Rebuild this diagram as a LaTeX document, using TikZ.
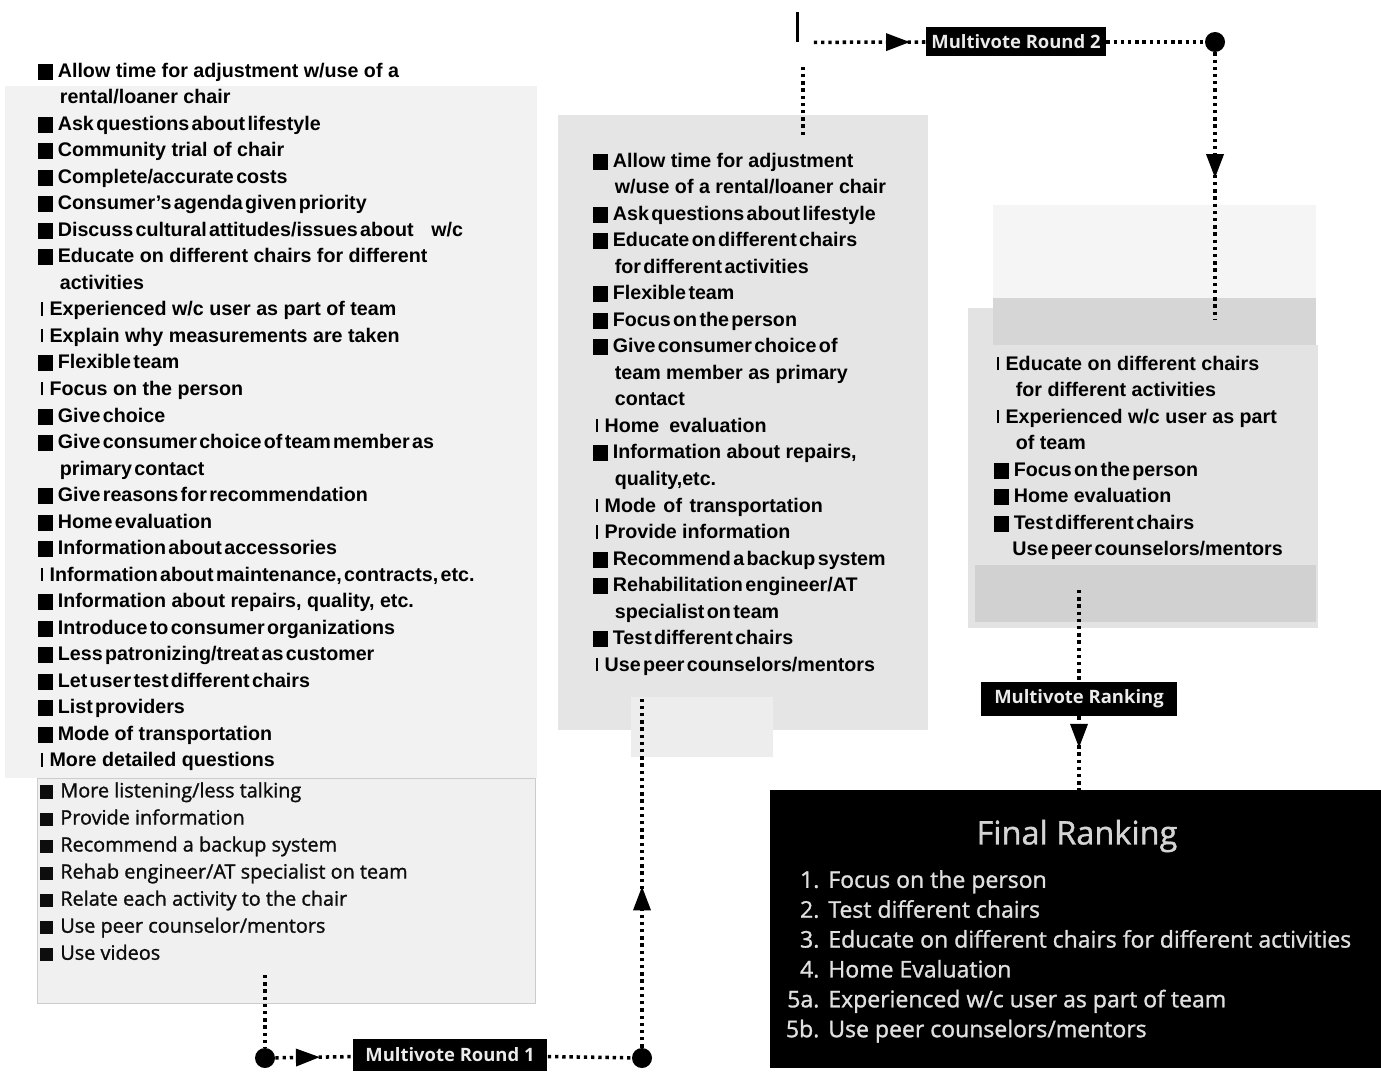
\documentclass[tikz,border=0pt]{standalone}
\usepackage{fontspec}
\setmainfont{Liberation Sans}
\newfontfamily\scanfont{Open Sans}
\newfontfamily\scanmid{Open Sans}[FakeBold=1.2]
\usetikzlibrary{arrows.meta,decorations.markings}

% bullets and indents of the printed lists
\newcommand{\sq}{\rule[-0.05cm]{0.29cm}{0.32cm}\hspace{0.1cm}}
\newcommand{\scansq}{\rule[-0.03cm]{0.26cm}{0.27cm}\hspace{0.14cm}}
\newcommand{\br}{\hspace*{0.05cm}\rule{0.045cm}{0.27cm}\hspace{0.13cm}}
\newcommand{\ind}{\hspace*{0.43cm}}
\newcommand{\tg}[1]{{\spaceskip=0.12em\relax#1}}
\newcommand{\rk}[1]{\makebox[0.7cm][r]{#1}\hspace{0.18cm}}

\begin{document}
\begin{tikzpicture}[
  x=0.02cm, y=-0.02cm,
  every node/.style={inner sep=0pt},
  itemlist/.style={anchor=north west, align=left,
    font=\bfseries\fontsize{11.2}{15.1}\selectfont},
  scanlist/.style={anchor=north west, align=left, text=black!95,
    font=\scanmid\fontsize{11.3}{15.4}\selectfont},
  votebox/.style={fill=black, text=black!8, minimum height=0.58cm,
    font=\scanfont\bfseries\fontsize{10.5}{12}\selectfont},
  hub/.style={circle, fill=black, minimum size=0.4cm},
  % dotted connectors, with the arrow head part way along
  dotline/.style={line width=2pt, dash pattern=on 1.9pt off 2.2pt},
  midarrow/.style={postaction={decorate}, decoration={markings,
    mark=at position #1 with {\arrow{Triangle[length=0.48cm, width=0.34cm]}}}}]

  \useasboundingbox (0,0) rectangle (1381,1071);

  % panels
  \fill[black!5]  (5,86) rectangle (537,778);
  \filldraw[fill=black!6, draw=black!20] (37,778) rectangle (535,1003);
  \fill[black!10] (558,115) rectangle (928,730);
  \fill[black!7]  (631,697) rectangle (773,757);
  \fill[black!4]  (993,205) rectangle (1316,298);
  \fill[black!16] (993,298) rectangle (1316,345);
  \fill[black!11] (968,345) rectangle (1318,628);
  \fill[black!18] (975,565) rectangle (1316,622);
  \fill[black!11] (968,308) rectangle (993,345);

  % lists
  \node[itemlist] (first) at (38,62.5) {%
    \sq Allow time for adjustment w/use of a\\
    \ind rental/loaner chair\\
    \sq \tg{Ask questions about lifestyle}\\
    \sq Community trial of chair\\
    \sq \tg{Complete/accurate costs}\\
    \sq \tg{Consumer’s agenda given priority}\\
    \sq \tg{Discuss cultural attitudes/issues about}\hspace{0.35cm}w/c\\
    \sq Educate on different chairs for different\\
    \ind activities\\
    \br Experienced w/c user as part of team\\
    \br Explain why measurements are taken\\
    \sq \tg{Flexible team}\\
    \br Focus on the person\\
    \sq \tg{Give choice}\\
    \sq \tg{Give consumer choice of team member as}\\
    \ind \tg{primary contact}\\
    \sq \tg{Give reasons for recommendation}\\
    \sq \tg{Home evaluation}\\
    \sq \tg{Information about accessories}\\
    \br \tg{Information about maintenance, contracts, etc.}\\
    \sq Information about repairs, quality, etc.\\
    \sq \tg{Introduce to consumer organizations}\\
    \sq \tg{Less patronizing/treat as customer}\\
    \sq \tg{Let user test different chairs}\\
    \sq \tg{List providers}\\
    \sq Mode of transportation\\
    \br More detailed questions};
  \node[scanlist] (firstscan) at (40,782) {%
    \scansq More listening/less talking\\
    \scansq Provide information\\
    \scansq Recommend a backup system\\
    \scansq Rehab engineer/AT specialist on team\\
    \scansq Relate each activity to the chair\\
    \scansq Use peer counselor/mentors\\
    \scansq Use videos};
  \node[itemlist] (second) at (593,152.5) {%
    \sq Allow time for adjustment\\
    \ind w/use of a rental/loaner chair\\
    \sq \tg{Ask questions about lifestyle}\\
    \sq \tg{Educate on different chairs}\\
    \ind \tg{for different activities}\\
    \sq \tg{Flexible team}\\
    \sq \tg{Focus on the person}\\
    \sq \tg{Give consumer choice of}\\
    \ind team member as primary\\
    \ind contact\\
    \br Home\hspace{0.2cm}evaluation\\
    \sq Information about repairs,\\
    \ind quality,etc.\\
    \br Mode\hspace{0.15cm}of\hspace{0.15cm}transportation\\
    \br Provide information\\
    \sq \tg{Recommend a backup system}\\
    \sq \tg{Rehabilitation engineer/AT}\\
    \ind \tg{specialist on team}\\
    \sq \tg{Test different chairs}\\
    \br \tg{Use peer counselors/mentors}};
  \node[itemlist] (third) at (994,355.5) {%
    \br Educate on different chairs\\
    \ind for different activities\\
    \br Experienced w/c user as part\\
    \ind of team\\
    \sq \tg{Focus on the person}\\
    \sq Home evaluation\\
    \sq \tg{Test different chairs}\\
    \hspace*{0.36cm}\tg{Use peer counselors/mentors}};

  % final ranking
  \node[fill=black, minimum width=12.22cm, minimum height=5.56cm] (final) at (1075.5,929) {};
  \node[text=black!17, font=\scanmid\fontsize{18.5}{22}\selectfont] (finaltitle) at (1077,836) {Final Ranking};
  \node[anchor=north west, align=left, text=black!12,
    font=\scanmid\fontsize{13.1}{17}\selectfont] (finallist) at (784,870) {%
    \rk{1.}Focus on the person\\
    \rk{2.}Test different chairs\\
    \rk{3.}Educate on different chairs for different activities\\
    \rk{4.}Home Evaluation\\
    \rk{5a.}Experienced w/c user as part of team\\
    \rk{5b.}Use peer counselors/mentors};

  % vote steps
  \node[votebox, minimum width=3.9cm, minimum height=0.64cm] (round1) at (450,1055) {Multivote Round 1};
  \node[votebox, minimum width=3.6cm] (round2) at (1016,42) {Multivote Round 2};
  \node[votebox, minimum width=3.92cm, minimum height=0.68cm] (ranking) at (1079,699) {Multivote Ranking};

  \node[hub] (hubA) at (265,1058) {};
  \node[hub] (hubB) at (642,1058) {};
  \node[hub] (hubC) at (1215,42) {};
  \node[fill=black, minimum width=0.06cm, minimum height=0.6cm] (bar) at (797,27) {};

  \coordinate (firstout) at (265,975);
  \coordinate (secondin) at (642,697);
  \coordinate (secondout) at (803,135);
  \coordinate (secondup) at (803,65);
  \coordinate (thirdin) at (1215,320);
  \coordinate (thirdout) at (1079,590);

  % connectors
  \draw[dotline] (firstout) -- (hubA);
  \draw[dotline, midarrow=0.58] (hubA) -- (round1);
  \draw[dotline] (round1) -- (hubB);
  \draw[dotline, midarrow=0.46] (hubB) -- (secondin);
  \draw[dotline] (secondout) -- (secondup);
  \draw[dotline, midarrow=0.86] ([xshift=0.3cm]bar.south east) -- (round2.west);
  \draw[dotline] (round2) -- (hubC);
  \draw[dotline, midarrow=0.47] (hubC) -- (thirdin);
  \draw[dotline] (thirdout) -- (ranking);
  \draw[dotline, midarrow=0.43] (ranking.south) -- (ranking.south |- final.north);
\end{tikzpicture}
\end{document}
